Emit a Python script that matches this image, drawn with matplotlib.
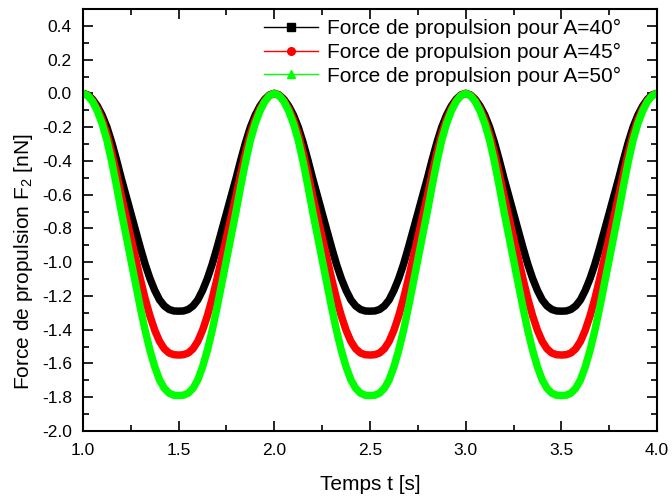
import matplotlib
matplotlib.use("Agg")
import matplotlib.pyplot as plt
import numpy as np
from matplotlib.lines import Line2D
from matplotlib.ticker import MultipleLocator

plt.rcParams['font.family'] = ['Liberation Sans', 'DejaVu Sans']
plt.rcParams['mathtext.fontset'] = 'custom'
plt.rcParams['mathtext.rm'] = 'Liberation Sans'
plt.rcParams['mathtext.it'] = 'Liberation Sans:italic'

# time grid (s): samples every 0.025 s from 1.0 to 4.0
t = np.round(np.arange(1.0, 4.0001, 0.025), 3)

# propulsion force F2 (nN)
f_40 = [
    0.000, -0.009, -0.035, -0.075, -0.129, -0.200, -0.290, -0.393, -0.503, -0.606,
    -0.710, -0.813, -0.916, -1.013, -1.097, -1.167, -1.223, -1.259, -1.280, -1.289,
    -1.290, -1.289, -1.280, -1.259, -1.223, -1.167, -1.097, -1.013, -0.916, -0.813,
    -0.710, -0.606, -0.503, -0.393, -0.290, -0.200, -0.129, -0.075, -0.035, -0.009,
    0.000, -0.009, -0.035, -0.075, -0.129, -0.200, -0.290, -0.393, -0.503, -0.606,
    -0.710, -0.813, -0.916, -1.013, -1.097, -1.167, -1.223, -1.259, -1.280, -1.289,
    -1.290, -1.289, -1.280, -1.259, -1.223, -1.167, -1.097, -1.013, -0.916, -0.813,
    -0.710, -0.606, -0.503, -0.393, -0.290, -0.200, -0.129, -0.075, -0.035, -0.009,
    0.000, -0.009, -0.035, -0.075, -0.129, -0.200, -0.290, -0.393, -0.503, -0.606,
    -0.710, -0.813, -0.916, -1.013, -1.097, -1.167, -1.223, -1.259, -1.280, -1.289,
    -1.290, -1.289, -1.280, -1.259, -1.223, -1.167, -1.097, -1.013, -0.916, -0.813,
    -0.710, -0.606, -0.503, -0.393, -0.290, -0.200, -0.129, -0.075, -0.035, -0.009,
    0.000]

f_45 = [
    0.000, -0.011, -0.042, -0.090, -0.155, -0.240, -0.349, -0.473, -0.605, -0.729,
    -0.853, -0.977, -1.101, -1.217, -1.318, -1.403, -1.469, -1.513, -1.538, -1.548,
    -1.550, -1.548, -1.538, -1.513, -1.469, -1.403, -1.318, -1.217, -1.101, -0.977,
    -0.853, -0.729, -0.605, -0.473, -0.349, -0.240, -0.155, -0.090, -0.042, -0.011,
    0.000, -0.011, -0.042, -0.090, -0.155, -0.240, -0.349, -0.473, -0.605, -0.729,
    -0.853, -0.977, -1.101, -1.217, -1.318, -1.403, -1.469, -1.513, -1.538, -1.548,
    -1.550, -1.548, -1.538, -1.513, -1.469, -1.403, -1.318, -1.217, -1.101, -0.977,
    -0.853, -0.729, -0.605, -0.473, -0.349, -0.240, -0.155, -0.090, -0.042, -0.011,
    0.000, -0.011, -0.042, -0.090, -0.155, -0.240, -0.349, -0.473, -0.605, -0.729,
    -0.853, -0.977, -1.101, -1.217, -1.318, -1.403, -1.469, -1.513, -1.538, -1.548,
    -1.550, -1.548, -1.538, -1.513, -1.469, -1.403, -1.318, -1.217, -1.101, -0.977,
    -0.853, -0.729, -0.605, -0.473, -0.349, -0.240, -0.155, -0.090, -0.042, -0.011,
    0.000]

f_50 = [
    0.000, -0.013, -0.048, -0.104, -0.179, -0.277, -0.403, -0.546, -0.698, -0.841,
    -0.985, -1.128, -1.271, -1.405, -1.522, -1.620, -1.697, -1.747, -1.776, -1.788,
    -1.790, -1.788, -1.776, -1.747, -1.697, -1.620, -1.522, -1.405, -1.271, -1.128,
    -0.985, -0.841, -0.698, -0.546, -0.403, -0.277, -0.179, -0.104, -0.048, -0.013,
    0.000, -0.013, -0.048, -0.104, -0.179, -0.277, -0.403, -0.546, -0.698, -0.841,
    -0.985, -1.128, -1.271, -1.405, -1.522, -1.620, -1.697, -1.747, -1.776, -1.788,
    -1.790, -1.788, -1.776, -1.747, -1.697, -1.620, -1.522, -1.405, -1.271, -1.128,
    -0.985, -0.841, -0.698, -0.546, -0.403, -0.277, -0.179, -0.104, -0.048, -0.013,
    0.000, -0.013, -0.048, -0.104, -0.179, -0.277, -0.403, -0.546, -0.698, -0.841,
    -0.985, -1.128, -1.271, -1.405, -1.522, -1.620, -1.697, -1.747, -1.776, -1.788,
    -1.790, -1.788, -1.776, -1.747, -1.697, -1.620, -1.522, -1.405, -1.271, -1.128,
    -0.985, -0.841, -0.698, -0.546, -0.403, -0.277, -0.179, -0.104, -0.048, -0.013,
    0.000]

labels = ["Force de propulsion pour A=40°",
          "Force de propulsion pour A=45°",
          "Force de propulsion pour A=50°"]
colors = ["#000000", "#ff0000", "#00ff00"]
markers = ["s", "o", "^"]

x_ticks = [1.0, 1.5, 2.0, 2.5, 3.0, 3.5, 4.0]
y_ticks = [-2.0, -1.8, -1.6, -1.4, -1.2, -1.0, -0.8, -0.6, -0.4, -0.2, 0.0, 0.2, 0.4]

fig = plt.figure(figsize=(6.72, 4.97), dpi=100)
ax = fig.add_axes([0.1235, 0.1328, 0.8542, 0.8491])

for y, c in zip([f_40, f_45, f_50], colors):
    ax.plot(t, y, color=c, lw=5.4, solid_joinstyle='round', solid_capstyle='round')

ax.set_xlim(1.0, 4.0)
ax.set_ylim(-2.0, 0.5)
ax.set_xticks(x_ticks)
ax.set_xticklabels([f"{v:.1f}" for v in x_ticks])
ax.set_yticks(y_ticks)
ax.set_yticklabels([f"{v:.1f}" for v in y_ticks])
ax.xaxis.set_minor_locator(MultipleLocator(0.25))
ax.yaxis.set_minor_locator(MultipleLocator(0.1))

ax.tick_params(which='both', direction='in', top=True, right=True, labelsize=12.5, width=1.2)
ax.tick_params(which='major', length=7)
ax.tick_params(which='minor', length=4)
ax.tick_params(axis='x', which='major', pad=9)
ax.tick_params(axis='y', which='major', pad=8)
for s in ax.spines.values():
    s.set_linewidth(1.5)

ax.set_xlabel("Temps t [s]", fontsize=15, labelpad=12)
ax.set_ylabel("Force de propulsion F$_2$ [nN]", fontsize=15)
ax.yaxis.set_label_coords(-0.083, 0.40)

handles = [Line2D([0], [0], color=c, lw=1, marker=m, markersize=5.5)
           for c, m in zip(colors, markers)]
ax.legend(handles, labels, loc='upper right', frameon=False, fontsize=15,
          handlelength=2.6, handletextpad=0.4, labelspacing=0.22,
          borderaxespad=0.1, bbox_to_anchor=(0.955, 1.0))

fig.savefig("out.png", dpi=100)
